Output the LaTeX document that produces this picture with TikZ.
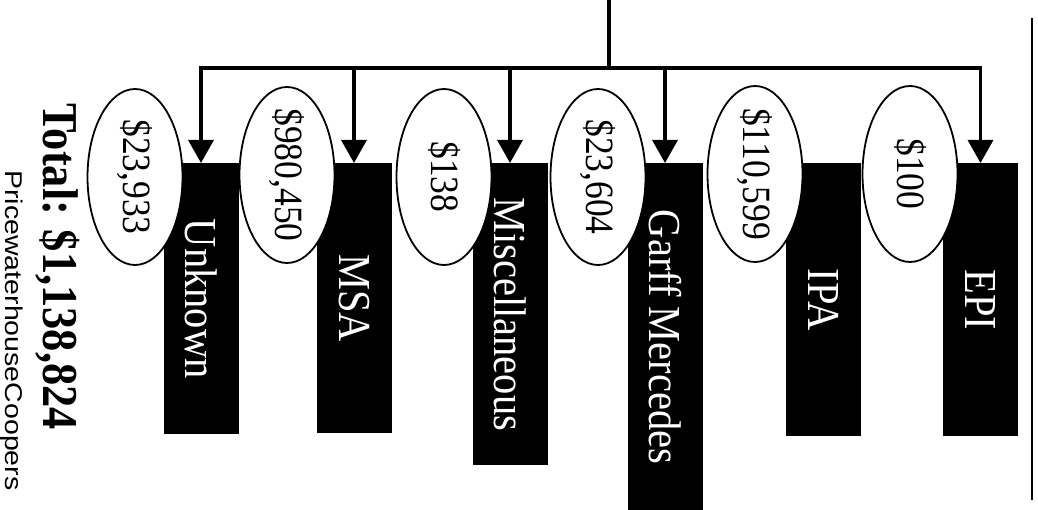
\documentclass[tikz,border=0pt]{standalone}
\usepackage{fontspec}
\setmainfont{Liberation Serif}
\setsansfont{Liberation Sans}
\usepackage{graphicx}
\usepackage{tikz}
\usetikzlibrary{arrows.meta,shapes.geometric}
\definecolor{ink}{HTML}{000000}
\definecolor{paper}{HTML}{FFFFFF}
\newcommand{\tall}[1]{\scalebox{1}[1.13]{#1}}
\tikzset{
  unit/.style={rotate=-90, anchor=west, fill=ink, text=paper, minimum height=75pt, inner sep=0pt, font=\fontsize{40.5}{44}\selectfont},
  amount/.style={rotate=-90, ellipse, draw=ink, line width=1.8pt, fill=paper, minimum width=176pt, minimum height=95pt, inner xsep=-12pt, inner ysep=0pt, font=\fontsize{35.5}{40}\selectfont},
  wire/.style={draw=ink, line width=3.5pt},
  tip/.tip={Triangle[width=25pt,length=23pt]},
  feed/.style={wire, -tip},
  rule/.style={draw=ink, line width=2pt},
  total/.style={rotate=-90, anchor=base, inner sep=0pt, font=\bfseries\fontsize{44.4}{48}\selectfont},
  firm/.style={rotate=-90, anchor=base, inner sep=0pt, font=\sffamily\fontsize{28.5}{32}\selectfont},
}

\begin{document}
\begin{tikzpicture}[x=1pt, y=-1pt]
  \useasboundingbox (0,0) rectangle (1038,510);
  % category boxes
  \node[unit, minimum width=271pt] (unk)   at (201,163)   {\tall{Unknown}};
  \node[unit, minimum width=270pt] (msa)   at (354,163)   {\tall{MSA}};
  \node[unit, minimum width=302pt] (misc)  at (510,163)   {\tall{Miscellaneous}};
  \node[unit, minimum width=348pt] (garff) at (665,163)   {\tall{Garff Mercedes}};
  \node[unit, minimum width=273pt] (ipa)   at (823.5,163) {\tall{IPA}};
  \node[unit, minimum width=273pt] (epi)   at (980.5,163) {\tall{EPI}};
  % amounts
  \node[amount] (a1) at (135,177) {\tall{\$23,933}};
  \node[amount] (a2) at (287,175) {\tall{\$980,450}};
  \node[amount] (a3) at (444,177) {\tall{\$138}};
  \node[amount] (a4) at (598,177) {\tall{\$23,604}};
  \node[amount] (a5) at (755,174) {\tall{\$110,599}};
  \node[amount] (a6) at (910,174) {\tall{\$100}};
  % tree
  \coordinate (root) at (609,0);
  \coordinate (hub) at (609,68);
  \draw[wire] (root) -- (hub);
  \draw[wire, tip-tip] (unk.west) -- (unk.west |- hub) -- (epi.west |- hub) -- (epi.west);
  \foreach \n in {msa,misc,garff}
    \draw[feed] (\n.west |- hub) -- (\n.west);
  \draw[rule] (1032,18) -- (1032,500);
  \node[total] (tot) at (43,266.5) {\tall{Total: \$1,138,824}};
  \node[firm] (pwc) at (5.5,330.5) {\scalebox{1}[0.85]{PricewaterhouseCoopers}};
\end{tikzpicture}
\end{document}
